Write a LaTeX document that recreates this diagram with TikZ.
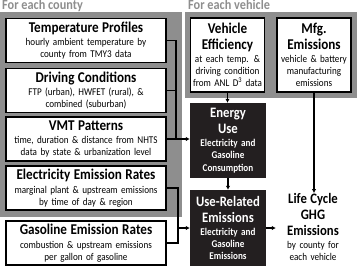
\documentclass[tikz,border=0pt]{standalone}
\usepackage{fontspec}
\setmainfont{Carlito}[FakeStretch=0.88]
\usetikzlibrary{arrows.meta}
\definecolor{panelgray}{HTML}{8E8E8E}
\definecolor{boxblack}{HTML}{231F20}
\hyphenpenalty=10000
\newcommand{\ttl}[1]{{\fontsize{15}{15.5}\selectfont\bfseries #1\par}\vspace{1.5bp}}
\newcommand{\bigttl}[1]{{\fontsize{14.5}{16}\selectfont\bfseries #1\par}\vspace{0.5bp}}

\begin{document}
\begin{tikzpicture}
	[x=1bp,y=-1bp,
	panel/.style={fill=panelgray,draw=none},
	head/.style={text=panelgray,font=\fontsize{14}{15}\selectfont\bfseries,anchor=base west,inner sep=0pt},
	src/.style={draw=black,line width=1.6bp,fill=white,align=center,text width=158bp,inner xsep=1bp,inner ysep=0pt,minimum height=44bp,font=\fontsize{10.4}{12}\selectfont},
	veh/.style={src,text width=74bp,inner xsep=0pt,minimum height=74bp},
	calc/.style={fill=boxblack,text=white,align=center,text width=75bp,inner xsep=0.5bp,inner ysep=0pt,minimum height=75bp,font=\fontsize{10.4}{12.5}\selectfont\bfseries},
	conn/.style={line width=1.2bp},
	arr/.style={conn,-{Latex[length=4bp,width=4.5bp]}}]
	\useasboundingbox (0,0) rectangle (357,266);
	\fill[panel] (0,12) rectangle (182,217);
	\fill[panel] (185,12) rectangle (357,98);
	\node[head] (hcounty) at (2,9.5) {For each county};
	\node[head] (hvehicle) at (188,9.5) {For each vehicle};
	\node[src] (temp) at (86,40.5) {\ttl{Temperature Profiles}hourly ambient temperature by\\county from TMY3 data};
	\node[src] (drive) at (86,90.5) {\ttl{Driving Conditions}FTP (urban), HWFET (rural), \&\\combined (suburban)};
	\node[src] (vmt) at (86,139) {\ttl{VMT Patterns}time, duration \& distance from NHTS\\data by state \& urbanization level};
	\node[src] (elec) at (86,188) {\ttl{Electricity Emission Rates}marginal plant \& upstream emissions\\by time of day \& region};
	\node[src] (gas) at (86,243) {\ttl{Gasoline Emission Rates}combustion \& upstream emissions\\per gallon of gasoline};
	\node[veh] (eff) at (227.5,55) {\ttl{Vehicle\\Efficiency}at each temp. \&\\driving condition\\from ANL D\textsuperscript{3} data};
	\node[veh] (mfg) at (314,55) {\ttl{Mfg.\\Emissions}vehicle \& battery\\manufacturing\\emissions};
	\node[calc] (energy) at (228,140.5) {\bigttl{Energy\\Use}Electricity and\\Gasoline\\Consumption};
	\node[calc,minimum height=76bp] (userel) at (228,228) {\bigttl{Use-Related\\Emissions}Electricity and\\Gasoline\\Emissions};
	\node[align=center,text width=74bp,inner sep=0pt,font=\fontsize{10.4}{12.5}\selectfont] (lca) at (313,227) {\bigttl{Life Cycle\\GHG\\Emissions}by county for\\each vehicle};
	\coordinate (bus1) at (176,0);
	\coordinate (bus2) at (178,0);
	\draw[conn] (temp.east) -| (bus1 |- vmt.east);
	\draw[conn] (drive.east) -- (drive.east -| bus1);
	\draw[arr] (vmt.east) -- (vmt.east -| energy.west);
	\draw[conn] (elec.east) -| (bus2 |- gas.east) -- (gas.east);
	\draw[arr] (bus2 |- userel.west) -- (userel.west);
	\draw[arr] (eff.south) -- (eff.south |- energy.north);
	\draw[arr] (energy.south) -- (userel.north);
	\draw[arr] (mfg.south) -- (mfg.south |- lca.north);
	\draw[arr] (userel.east) -- (userel.east -| lca.west);
\end{tikzpicture}
\end{document}
